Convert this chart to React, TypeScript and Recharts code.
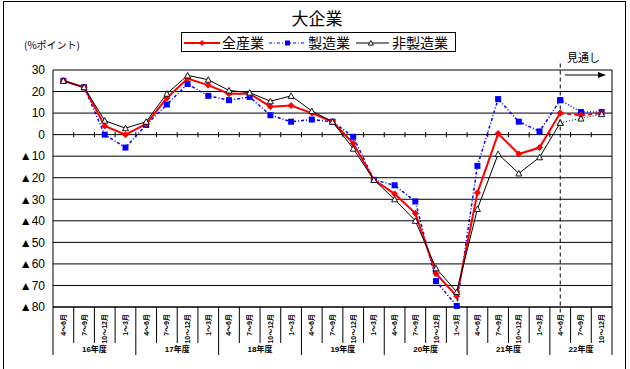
import { CartesianGrid, Line, LineChart, ReferenceLine, XAxis, YAxis } from "recharts";

const quarters = [
  "4～6月", "7～9月", "10～12月", "1～3月",
  "4～6月", "7～9月", "10～12月", "1～3月",
  "4～6月", "7～9月", "10～12月", "1～3月",
  "4～6月", "7～9月", "10～12月", "1～3月",
  "4～6月", "7～9月", "10～12月", "1～3月",
  "4～6月", "7～9月", "10～12月", "1～3月",
  "4～6月", "7～9月", "10～12月",
];
const fiscalYears = ["16年度", "17年度", "18年度", "19年度", "20年度", "21年度", "22年度"];
const quartersPerYear = [4, 4, 4, 4, 4, 4, 3];

// 全産業
const allIndustries = [25, 22, 4, 0, 5, 17, 26, 23, 19, 19, 13, 13.5, 10, 6, -4, -21, -27.5, -36.5, -64.5, -75, -27, 0.5, -9, -6, 10, 9, 10];
// 製造業
const manufacturing = [25, 22, 0, -6, 4.5, 14, 23.5, 18, 16, 17.5, 9, 6, 7, 6, -1, -21, -23.5, -31, -68, -79.5, -14.5, 16.5, 6, 1.5, 16, 10.5, 10.5];
// 非製造業
const nonManufacturing = [25, 22, 6.5, 3, 6, 19, 27.5, 25.5, 20.5, 19.5, 15.5, 18, 11, 6, -6.5, -21, -30, -40, -62, -73, -34.5, -9, -18, -10.5, 5.5, 7.5, 9.5];

// first quarter of the 見通し (forecast) period
const forecastStart = 24;
const yTicks = [30, 20, 10, 0, -10, -20, -30, -40, -50, -60, -70, -80];

const BAND = 559 / quarters.length;
const FONT = '"Liberation Sans", Arial, "Noto Sans CJK JP", sans-serif';
const JP = '"Noto Sans CJK JP", sans-serif';

const rows = quarters.map((q, i) => ({
  x: i + 0.5,
  all: i <= forecastStart ? allIndustries[i] : null,
  mfg: i <= forecastStart ? manufacturing[i] : null,
  non: i <= forecastStart ? nonManufacturing[i] : null,
  allF: i >= forecastStart ? allIndustries[i] : null,
  mfgF: i >= forecastStart ? manufacturing[i] : null,
  nonF: i >= forecastStart ? nonManufacturing[i] : null,
}));

const groupStarts = quartersPerYear.map((_, g) =>
  quartersPerYear.slice(0, g).reduce((a, b) => a + b, 0)
);

const Diamond = (props: any) => {
  const { cx, cy, r = 3.5 } = props;
  if (cx == null || cy == null) return null;
  return (
    <polygon
      points={`${cx},${cy - r} ${cx + r},${cy} ${cx},${cy + r} ${cx - r},${cy}`}
      fill="#ff0000"
      stroke="#ff0000"
    />
  );
};

const Square = (props: any) => {
  const { cx, cy, r = 3 } = props;
  if (cx == null || cy == null) return null;
  return <rect x={cx - r} y={cy - r} width={r * 2} height={r * 2} fill="#0000ff" />;
};

const Triangle = (props: any) => {
  const { cx, cy, r = 3.5 } = props;
  if (cx == null || cy == null) return null;
  return (
    <polygon
      points={`${cx},${cy - r} ${cx + r},${cy + r * 0.85} ${cx - r},${cy + r * 0.85}`}
      fill="#fff"
      stroke="#000"
      strokeWidth={0.9}
    />
  );
};

const QuarterTick = (props: any) => {
  const { x, y, payload } = props;
  const i = Math.round(payload.value - 0.5);
  const left = x - BAND / 2;
  const g = groupStarts.indexOf(i);
  const isLast = i === quarters.length - 1;
  return (
    <g>
      <line x1={left} x2={left} y1={y} y2={y + (g >= 0 ? 48 : 36)} stroke="#000" />
      {isLast && <line x1={x + BAND / 2} x2={x + BAND / 2} y1={y} y2={y + 48} stroke="#000" />}
      <text
        transform={`translate(${x},${y + 7}) rotate(-90)`}
        textAnchor="end"
        dominantBaseline="central"
        fontSize={7}
        fontWeight="bold"
        fontFamily={FONT}
        fill="#000"
      >
        {quarters[i]}
      </text>
      {g >= 0 && (
        <text
          x={left + (quartersPerYear[g] * BAND) / 2}
          y={y + 45}
          textAnchor="middle"
          fontSize={8}
          fontWeight="bold"
          fontFamily={FONT}
          fill="#000"
        >
          {fiscalYears[g]}
        </text>
      )}
    </g>
  );
};

const yFormat = (v: number) => (v < 0 ? `▲${Math.abs(v)}` : `${v}`);

const LegendItem = ({ color, dash, iconLeft, iconWidth, marker, label, textLeft }: any) => (
  <>
    <svg width={iconWidth} height={12} style={{ position: "absolute", left: iconLeft, top: 4 }}>
      <line x1={0} x2={iconWidth} y1={6} y2={6} stroke={color} strokeWidth={color === "#ff0000" ? 2 : 1.2} strokeDasharray={dash} />
      {marker === "diamond" && <Diamond cx={iconWidth / 2} cy={6} r={2.5} />}
      {marker === "square" && <Square cx={iconWidth / 2} cy={6} r={2.5} />}
      {marker === "triangle" && <Triangle cx={iconWidth * 0.45} cy={6} r={2.5} />}
    </svg>
    <span style={{ position: "absolute", left: textLeft, top: 0, fontFamily: JP, fontSize: 14, lineHeight: "19px", whiteSpace: "nowrap" }}>
      {label}
    </span>
  </>
);

export default function App() {
  return (
    <div style={{ position: "absolute", left: 0, top: 0, width: 630, height: 369, background: "#fff", overflow: "hidden" }}>
      <div style={{ position: "absolute", left: 3, top: 1, width: 621, height: 380, border: "1px solid #000" }} />
      <div style={{ position: "absolute", left: 0, width: 634, top: 7, textAlign: "center", fontFamily: JP, fontSize: 17, lineHeight: "22px" }}>
        大企業
      </div>
      <div style={{ position: "absolute", left: 181, top: 32, width: 273, height: 18, border: "1.5px solid #000" }}>
        <LegendItem iconLeft={2} iconWidth={36} textLeft={40} color="#ff0000" marker="diamond" label="全産業" />
        <LegendItem iconLeft={87} iconWidth={37} textLeft={126} color="#0000ff" dash="3 2 1 2" marker="square" label="製造業" />
        <LegendItem iconLeft={174} iconWidth={33} textLeft={210} color="#000" marker="triangle" label="非製造業" />
      </div>
      <div style={{ position: "absolute", left: 24, top: 38, fontFamily: JP, fontSize: 10, lineHeight: "13px" }}>
        (%ポイント)
      </div>
      <div style={{ position: "absolute", left: 567, top: 50, fontFamily: JP, fontSize: 11, lineHeight: "14px" }}>
        見通し
      </div>
      <svg style={{ position: "absolute", left: 0, top: 0 }} width={630} height={369}>
        <line x1={565} x2={600} y1={75} y2={75} stroke="#000" strokeWidth={1} />
        <polygon points="606,75 598,72 598,78" fill="#000" />
      </svg>
      <div style={{ position: "absolute", left: 0, top: 0 }}>
        <LineChart width={630} height={369} data={rows} margin={{ top: 70, right: 18, bottom: 14, left: 8 }}>
          <CartesianGrid vertical={false} stroke="#000" strokeWidth={1} />
          <XAxis
            type="number"
            dataKey="x"
            domain={[0, quarters.length]}
            ticks={rows.map((r) => r.x)}
            interval={0}
            tickLine={false}
            tickSize={0}
            tickMargin={0}
            height={48}
            axisLine={{ stroke: "#000" }}
            tick={<QuarterTick />}
          />
          <YAxis
            domain={[-80, 30]}
            ticks={yTicks}
            interval={0}
            width={45}
            tickLine={false}
            tickSize={0}
            tickMargin={8}
            axisLine={{ stroke: "#000" }}
            tickFormatter={yFormat}
            tick={{ fill: "#000", fontSize: 12, fontFamily: FONT }}
          />
          <ReferenceLine x={quarters.length} stroke="#000" />
          {quarters.slice(1).map((_, k) => (
            <ReferenceLine
              key={k}
              segment={[{ x: k + 1, y: 1.2 }, { x: k + 1, y: -1.2 }]}
              stroke="#000"
            />
          ))}
          <ReferenceLine
            segment={[{ x: forecastStart + 0.5, y: 33 }, { x: forecastStart + 0.5, y: -83 }]}
            stroke="#000"
            strokeDasharray="4 3"
            ifOverflow="visible"
          />
          <Line dataKey="mfg" stroke="#0000ff" strokeWidth={1.5} strokeDasharray="3 2 1 2" dot={<Square />} isAnimationActive={false} />
          <Line dataKey="mfgF" stroke="#0000ff" strokeWidth={1.5} strokeDasharray="1 2" dot={<Square />} isAnimationActive={false} />
          <Line dataKey="all" stroke="#ff0000" strokeWidth={2} dot={<Diamond />} isAnimationActive={false} />
          <Line dataKey="allF" stroke="#ff0000" strokeWidth={2} strokeDasharray="4 3" dot={<Diamond />} isAnimationActive={false} />
          <Line dataKey="non" stroke="#000" strokeWidth={1} dot={<Triangle />} isAnimationActive={false} />
          <Line dataKey="nonF" stroke="#000" strokeWidth={1} strokeDasharray="1 2" dot={<Triangle />} isAnimationActive={false} />
        </LineChart>
      </div>
    </div>
  );
}
